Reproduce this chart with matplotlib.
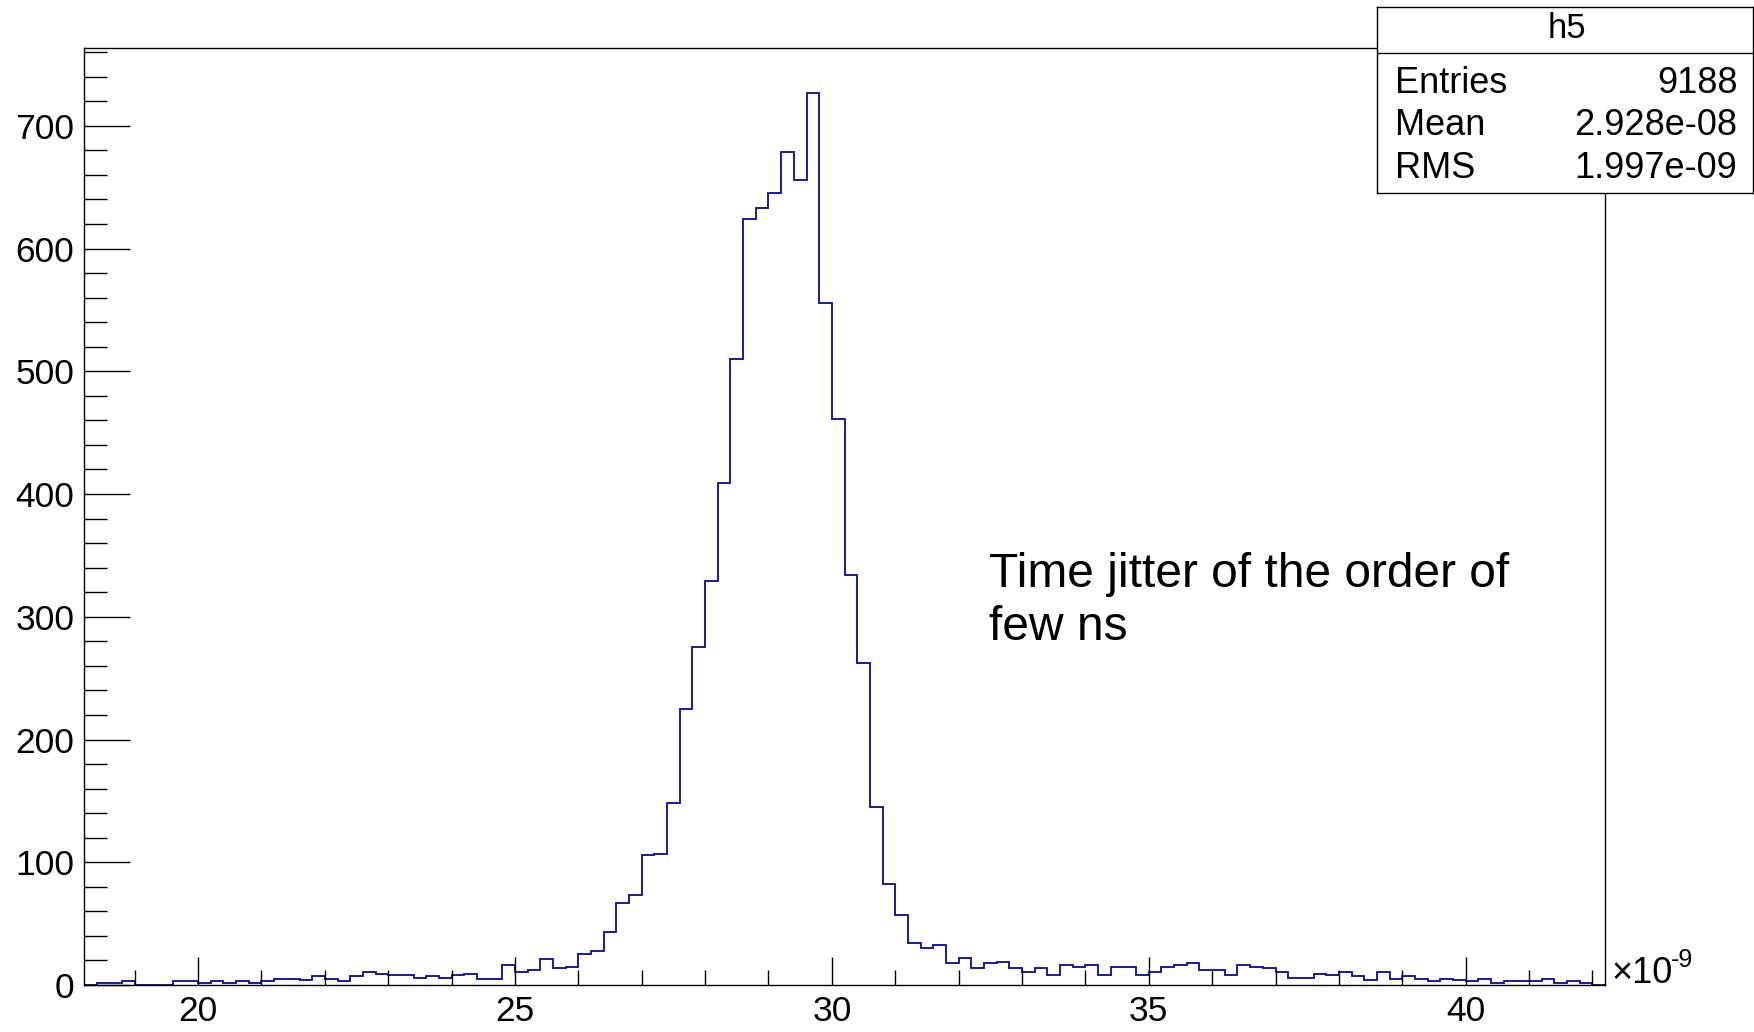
import numpy as np
import matplotlib
matplotlib.use('Agg')
import matplotlib.pyplot as plt
from matplotlib.ticker import MultipleLocator

plt.rcParams['font.family'] = ['Liberation Sans', 'DejaVu Sans']

# histogram h5: 120 bins of 0.2 (x1e-9 s) between 18.2 and 42.2
x_min = 18.2
x_max = 42.2
counts = [0, 2, 2, 3, 0, 0, 0, 3, 3, 2,
          3, 2, 3, 2, 3, 5, 5, 4, 7, 5,
          3, 7, 11, 9, 8, 8, 6, 7, 6, 8,
          9, 5, 5, 16, 11, 12, 21, 14, 15, 25,
          28, 43, 67, 73, 106, 107, 148, 225, 275, 329,
          409, 510, 624, 633, 645, 679, 656, 727, 556, 461,
          334, 262, 145, 82, 57, 34, 30, 33, 18, 22,
          14, 18, 19, 14, 11, 14, 8, 16, 15, 16,
          8, 15, 15, 8, 11, 15, 16, 18, 12, 12,
          8, 16, 15, 14, 11, 6, 6, 9, 8, 11,
          7, 4, 11, 5, 7, 5, 3, 5, 4, 3,
          5, 2, 3, 3, 3, 5, 2, 3, 2, 0]

stats_name = 'h5'
stats_rows = [('Entries', '9188'), ('Mean', '2.928e-08'), ('RMS', '1.997e-09')]
note_lines = ['Time jitter of the order of', 'few ns']

edges = np.linspace(x_min, x_max, len(counts) + 1)

fig = plt.figure(figsize=(17.54, 10.32), dpi=100)
ax = fig.add_axes([0.0479, 0.0455, 0.8672, 0.908])

ax.stairs(counts, edges, baseline=0, color='#0606a8', lw=1.3)

ax.set_xlim(x_min, x_max)
ax.set_ylim(0, max(counts) * 1.05)

# ROOT style ticks: inside, bottom and left only
ax.xaxis.set_major_locator(MultipleLocator(5))
ax.xaxis.set_minor_locator(MultipleLocator(1))
ax.yaxis.set_major_locator(MultipleLocator(100))
ax.yaxis.set_minor_locator(MultipleLocator(20))
ax.tick_params(axis='x', which='major', direction='in', length=20, width=1, pad=7, labelsize=25.5)
ax.tick_params(axis='x', which='minor', direction='in', length=11, width=1)
ax.tick_params(axis='y', which='major', direction='in', length=33, width=1, pad=7, labelsize=25.5)
ax.tick_params(axis='y', which='minor', direction='in', length=16.5, width=1)
for s in ax.spines.values():
    s.set_linewidth(1)

# exponent of the x axis
fig.text(0.9185, 0.047, '\u00d710', fontsize=26, va='baseline', ha='left')
fig.text(0.9525, 0.063, '-9', fontsize=18, va='baseline', ha='left')

# note
fig.text(0.564, 1 - 587 / 1032, note_lines[0], fontsize=34.5, va='baseline')
fig.text(0.564, 1 - 640 / 1032, note_lines[1], fontsize=34.5, va='baseline')

# stats box
sb = fig.add_axes([0.785, 0.813, 0.2146, 0.1802])
sb.set_xticks([])
sb.set_yticks([])
sb.set_xlim(0, 1)
sb.set_ylim(0, 1)
for s in sb.spines.values():
    s.set_linewidth(1)
sb.axhline(0.753, color='black', lw=1)
sb.text(0.504, 0.835, stats_name, fontsize=25, ha='center', va='baseline')
for (name, val), yb in zip(stats_rows, [0.54, 0.31, 0.08]):
    sb.text(0.048, yb, name, fontsize=26, ha='left', va='baseline')
    sb.text(0.958, yb, val, fontsize=26, ha='right', va='baseline')

fig.savefig('out.png', dpi=100)
